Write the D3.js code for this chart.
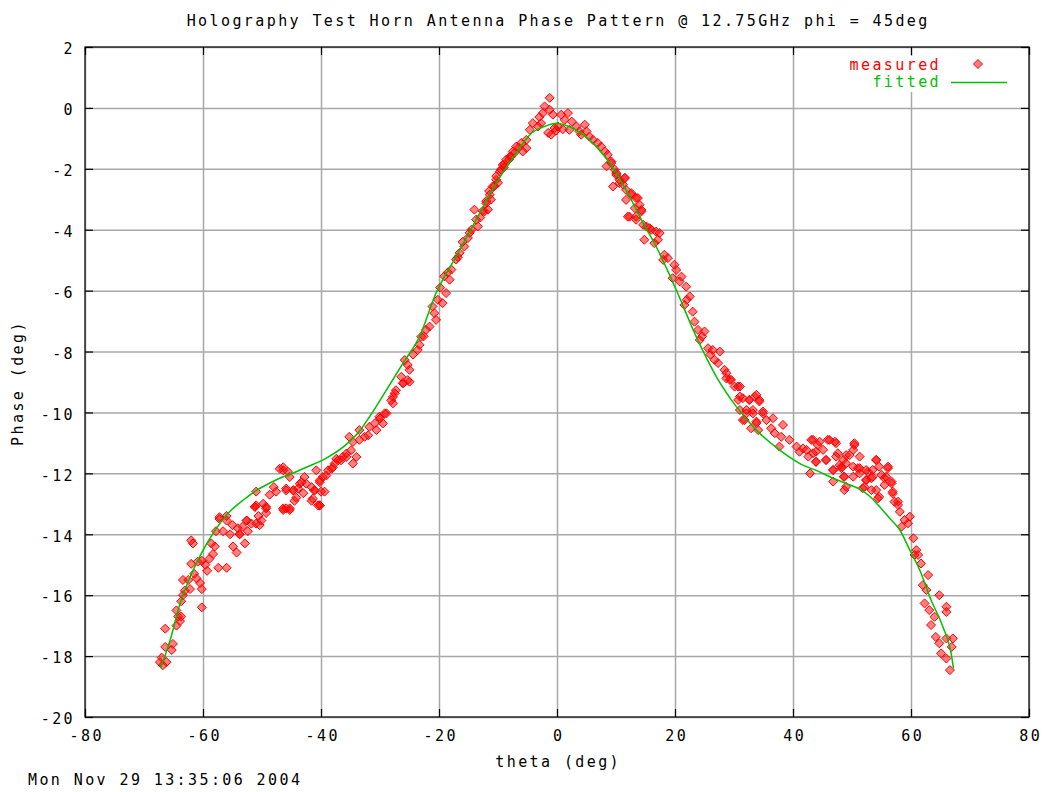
<!DOCTYPE html>
<html>
<head>
<meta charset="utf-8">
<script src="https://cdn.jsdelivr.net/npm/d3@7"></script>
<style>
  body { margin: 0; background: #fff; }
  svg text { font-family: "DejaVu Sans Mono", monospace; font-size: 15px; letter-spacing: 2.4px; fill: #000; }
</style>
</head>
<body>
<svg id="chart"></svg>
<script>
// Tick values
const xTicks = [-80, -60, -40, -20, 0, 20, 40, 60, 80];
const yTicks = [-20, -18, -16, -14, -12, -10, -8, -6, -4, -2, 0, 2];

// Measured phase points [theta, phase] in pieces
const leftWing = [[-67.3,-18.2],[-66.8,-18.3],[-66.2,-18.2],[-67.0,-18.05],[-66.4,-17.7],[-65.3,-17.8],[-65.1,-17.6],[-66.4,-17.1],[-64.5,-17.0],[-63.9,-16.85],[-64.2,-16.7],[-63.7,-16.7],[-64.5,-16.5],[-63.7,-16.2],[-63.4,-16.0],[-63.1,-15.85],[-62.2,-15.8],[-62.5,-15.5],[-63.4,-15.5],[-61.1,-15.45],[-60.5,-15.6],[-60.2,-15.8],[-60.2,-16.4],[-61.5,-15.3],[-62.0,-14.97],[-60.9,-14.9],[-60.2,-14.87],[-59.6,-15.0],[-59.3,-15.2],[-62.0,-14.2],[-61.7,-14.3],[-58.9,-14.8],[-58.3,-14.65],[-58.6,-14.3],[-58.0,-14.4],[-57.4,-15.1],[-56.0,-15.1],[-57.8,-13.9],[-57.2,-13.5],[-56.0,-13.4],[-56.6,-13.9],[-55.4,-14.0],[-54.9,-14.4],[-54.3,-14.6],[-53.8,-14.0],[-54.1,-13.8],[-52.6,-13.55],[-52.4,-13.9],[-52.9,-14.3],[-51.8,-13.65],[-51.0,-13.65],[-50.1,-13.55],[-51.2,-13.1],[-49.3,-13.1],[-49.3,-13.3],[-51.0,-13.05],[-46.4,-13.15],[-45.3,-13.15],[-44.5,-12.9],[-41.6,-12.9],[-40.5,-13.05],[-55.0,-13.7],[-53.3,-13.75],[-50.6,-13.4]];
const leftShoulder = [[-47.0,-11.85],[-46.4,-11.8],[-45.6,-11.95],[-51.0,-12.6],[-48.7,-12.7],[-47.6,-12.6],[-49.8,-13.0],[-49.3,-13.15],[-51.2,-13.1],[-46.4,-13.2],[-45.3,-13.2],[-45.9,-12.5],[-44.7,-12.55],[-43.9,-12.5],[-44.2,-12.8],[-43.3,-12.29],[-42.5,-12.34],[-41.6,-12.45],[-41.1,-12.56],[-42.8,-12.12],[-40.8,-11.9],[-40.2,-12.29],[-39.4,-12.6],[-40.2,-13.05],[-39.1,-12.07],[-38.2,-11.85],[-37.7,-11.68],[-37.1,-11.57],[-36.3,-11.46],[-35.7,-11.35],[-34.9,-11.24],[-34.6,-11.68],[-56.0,-13.55],[-57.2,-13.44],[-52.6,-13.55],[-50.4,-13.7],[-53.8,-14.0],[-48.0,-12.45],[-43.0,-12.65]];
const leftMid = [[-26.1,-9.04],[-25.0,-8.99],[-27.5,-9.37],[-27.8,-9.70],[-28.9,-10.03],[-29.5,-10.36],[-30.6,-10.58],[-31.8,-10.47],[-32.6,-10.8],[-33.5,-10.9],[-34.6,-10.97],[-35.2,-10.8],[-34.0,-11.46],[-35.7,-11.46],[-36.6,-11.57],[-37.4,-11.52],[-38.0,-11.8],[-38.8,-11.9],[-39.7,-12.12],[-40.2,-12.23],[-41.1,-12.56],[-40.0,-12.6],[-41.4,-12.83],[-40.2,-13.05],[-43.6,-12.34],[-44.7,-12.56],[-45.9,-12.56],[-46.4,-11.9],[-45.3,-12.12],[-45.9,-13.15],[-33.5,-10.58],[-32.0,-10.75],[-30.0,-10.2]];
const leftRise = [[-30.9,-10.36],[-30.1,-10.14],[-29.2,-10.03],[-28.1,-9.6],[-27.8,-9.49],[-27.3,-9.27],[-26.1,-9.04],[-26.4,-8.83],[-25.3,-8.94],[-25.0,-8.6],[-25.8,-8.28],[-25.3,-8.44],[-23.6,-7.95],[-23.3,-7.78],[-23.0,-7.51],[-22.2,-7.29],[-21.6,-7.18],[-20.5,-6.96],[-20.8,-6.74],[-21.1,-6.52],[-20.2,-6.3],[-19.4,-6.41],[-18.8,-6.08],[-19.1,-5.53],[-18.2,-5.64],[-17.9,-5.31],[-17.1,-4.98],[-16.5,-4.76],[-15.7,-4.55],[-15.1,-4.27],[-14.5,-4.0],[-13.4,-3.89],[-13.7,-3.67],[-14.0,-3.34],[-12.6,-3.39],[-11.7,-3.34],[-12.0,-3.06],[-11.2,-3.01],[-11.5,-2.73],[-10.6,-2.57],[-10.0,-2.46],[-10.3,-2.24],[-9.5,-2.02],[-8.9,-1.85],[-8.1,-1.69],[-7.2,-1.47],[-19.8,-5.9],[-18.5,-5.4],[-16.8,-4.9],[-16.0,-4.4],[-14.8,-4.1],[-13.0,-3.6],[-9.0,-1.95],[-7.8,-1.6],[-6.5,-1.3],[-24.4,-8.1],[-22.6,-7.5]];
const peakPoints = [[-1.25,0.33],[-2.1,0.05],[-1.25,-0.06],[-2.4,-0.17],[-0.7,-0.22],[0.73,-0.22],[1.85,-0.17],[1.3,-0.39],[-4.1,-0.5],[-3.2,-0.61],[-4.6,-0.72],[-0.4,-0.66],[0.15,-0.61],[-1.5,-0.82],[-1.0,-0.88],[2.1,-0.72],[3.3,-0.61],[3.8,-0.77],[4.7,-0.55],[5.0,-0.77],[5.5,-0.94],[4.1,-0.88],[-5.2,-1.05],[-6.05,-1.15],[-6.9,-1.27],[-5.2,-1.32],[-5.8,-1.43],[-7.5,-1.43],[-8.0,-1.6],[-8.6,-1.7],[-9.2,-1.87],[-9.7,-2.09],[-10.3,-2.36],[-10.9,-2.58],[-11.4,-2.85],[-12.0,-3.13],[-12.3,-3.4],[6.1,-1.05],[6.9,-1.15],[7.5,-1.27],[8.1,-1.43],[8.6,-1.54],[9.2,-1.76],[9.8,-2.03],[10.05,-2.2],[11.5,-2.3],[10.6,-2.36],[11.2,-2.52],[11.7,-2.69],[12.6,-2.85],[13.4,-2.96],[14.0,-3.18],[14.3,-3.35],[12.3,-3.57],[13.4,-3.57],[8.4,-1.92],[-3.0,-0.3],[-2.7,-0.5],[2.5,-0.45],[-0.2,-0.75],[1.0,-0.7]];
const rightFall = [[9.2,-1.81],[10.05,-2.14],[11.5,-2.3],[9.5,-2.58],[10.6,-2.47],[12.6,-2.8],[13.7,-2.96],[11.7,-3.02],[13.2,-3.29],[14.3,-3.4],[12.0,-3.57],[13.4,-3.67],[14.6,-3.84],[15.7,-3.95],[16.8,-4.06],[17.4,-4.11],[14.8,-4.33],[17.1,-4.33],[16.5,-4.44],[18.2,-4.82],[18.8,-4.93],[18.0,-4.99],[19.9,-5.15],[20.2,-5.32],[19.6,-5.59],[21.1,-5.54],[20.8,-5.7],[21.9,-5.87],[22.5,-6.19],[21.6,-6.47],[23.0,-6.69],[23.3,-7.02],[23.9,-7.29],[25.0,-7.34],[24.2,-7.62],[25.6,-7.89],[26.4,-7.95],[27.6,-8.0],[26.7,-8.27],[27.3,-8.38],[28.4,-8.6],[28.7,-8.88],[29.3,-8.93],[30.1,-9.15],[31.0,-9.15],[30.7,-9.59],[31.5,-9.53],[32.6,-9.59],[33.5,-9.48],[34.3,-9.59],[32.1,-9.92],[33.2,-10.03],[34.9,-10.03],[31.5,-10.25],[33.8,-10.35],[15.2,-3.9],[16.0,-4.0],[22.0,-6.3],[24.6,-7.5],[26.0,-8.1]];
const rightShoulder = [[28.7,-8.71],[29.5,-8.93],[30.7,-9.15],[31.0,-9.48],[32.6,-9.59],[33.8,-9.42],[34.3,-9.64],[31.0,-9.92],[32.1,-10.03],[33.2,-9.92],[34.9,-9.97],[31.8,-10.25],[33.8,-10.3],[35.5,-10.25],[36.6,-10.19],[32.9,-10.52],[34.1,-10.58],[36.3,-10.52],[38.3,-10.41],[36.9,-10.68],[38.0,-10.8],[39.4,-10.9],[37.7,-11.12],[40.6,-11.12],[41.1,-11.29],[43.4,-10.9],[44.5,-10.96],[45.9,-10.9],[47.1,-10.96],[50.4,-11.01],[42.3,-11.23],[43.9,-11.29],[45.1,-11.23],[42.6,-11.45],[43.9,-11.62],[45.6,-11.56],[47.3,-11.45],[49.0,-11.4],[50.2,-11.23],[51.3,-11.45],[47.9,-11.73],[49.0,-11.67],[46.8,-11.89],[48.2,-11.83],[50.2,-11.78],[51.3,-11.83],[54.1,-11.56],[52.4,-11.89],[53.5,-11.89],[54.6,-11.78],[56.1,-11.78],[48.6,-12.11],[50.2,-12.11],[52.4,-12.22],[53.5,-12.11],[55.0,-12.05],[55.8,-12.11],[42.9,-12.0],[46.8,-12.27],[49.0,-12.44],[52.1,-12.44],[54.1,-12.55],[55.5,-12.38],[56.7,-12.33],[54.6,-12.77],[56.9,-12.66],[57.8,-12.93]];
const rightWing = [[41.7,-11.18],[43.1,-10.9],[44.2,-11.07],[43.4,-11.34],[43.9,-11.62],[45.6,-11.56],[46.2,-10.9],[47.3,-11.01],[47.6,-11.34],[48.5,-11.56],[49.6,-11.4],[50.4,-11.07],[48.2,-11.78],[46.8,-11.89],[48.7,-12.11],[51.0,-11.83],[51.3,-12.0],[52.7,-11.95],[54.1,-11.56],[53.3,-12.16],[52.4,-12.22],[56.1,-11.83],[55.5,-12.16],[56.7,-12.27],[51.8,-12.49],[53.3,-12.55],[48.7,-12.55],[54.4,-12.82],[56.9,-12.6],[57.2,-12.93],[57.8,-13.04],[58.1,-13.26],[58.9,-13.53],[59.8,-13.42],[58.4,-13.75],[59.5,-13.64],[60.4,-14.13],[60.9,-14.52],[61.2,-14.68],[61.7,-14.96],[60.6,-14.68],[62.9,-15.34],[62.0,-15.67],[62.6,-15.83],[64.8,-16.0],[62.3,-16.27],[63.1,-16.49],[64.0,-16.71],[63.4,-16.98],[66.0,-16.38],[66.0,-16.55],[64.2,-17.37],[66.0,-17.42],[67.1,-17.42],[64.8,-17.58],[65.1,-17.91],[66.0,-18.08],[66.9,-17.7],[66.6,-18.46]];

// Fitted curve
const fittedTheta = [-67.2,-65.6,-63.9,-62.2,-60.0,-58.3,-55.5,-53.0,-51.0,-49.0,-47.0,-44.5,-42.5,-39.1,-35.7,-33.5,-31.8,-28.9,-26.1,-23.3,-20.5,-17.1,-13.7,-10.3,-6.9,-4.6,-2.0,-0.1,2.5,5.5,8.9,12.3,14.6,16.8,20.2,23.6,27.0,30.4,33.8,37.7,41.1,44.5,46.8,49.0,51.3,53.0,54.7,56.5,58.1,59.8,61.5,63.4,65.4,66.8,67.2];
const fittedPhase = [-18.4,-17.5,-16.28,-15.41,-14.53,-13.97,-13.26,-12.85,-12.57,-12.35,-12.16,-11.97,-11.8,-11.5,-11.05,-10.62,-10.15,-9.26,-8.38,-7.51,-6.08,-4.88,-3.67,-2.47,-1.48,-0.88,-0.6,-0.5,-0.65,-1.05,-1.81,-2.91,-3.78,-4.55,-5.97,-7.51,-8.82,-9.81,-10.58,-11.23,-11.67,-11.95,-12.16,-12.33,-12.52,-12.75,-13.1,-13.5,-13.86,-14.52,-15.18,-16.16,-17.04,-17.91,-18.4];

class PhaseChart {

  constructor(_config) {
    this.config = {
      parentElement: _config.parentElement,
      containerWidth: _config.width,
      containerHeight: _config.height,
      margin: { top: 47, right: 23, bottom: 75, left: 85 }
    };
    this.measured = _config.measured;
    this.fitted = _config.fitted;
    this.initVis();
  }

  initVis() {
    let vis = this;
    vis.config.width = vis.config.containerWidth - vis.config.margin.left - vis.config.margin.right;
    vis.config.height = vis.config.containerHeight - vis.config.margin.top - vis.config.margin.bottom;

    vis.svg = d3.select(vis.config.parentElement)
      .attr('width', vis.config.containerWidth)
      .attr('height', vis.config.containerHeight);

    vis.chartArea = vis.svg.append('g')
      .attr('transform', `translate(${vis.config.margin.left},${vis.config.margin.top})`);

    vis.xScale = d3.scaleLinear().domain([-80, 80]).range([0, vis.config.width]);
    vis.yScale = d3.scaleLinear().domain([-20, 2]).range([vis.config.height, 0]);

    vis.renderVis();
  }

  renderVis() {
    let vis = this;
    const w = vis.config.width, h = vis.config.height;
    const fmt = d => String(d);

    // grid
    vis.chartArea.append('g')
      .call(d3.axisBottom(vis.xScale).tickValues(xTicks).tickSize(h).tickFormat(''))
      .call(g => g.select('.domain').remove())
      .selectAll('line').attr('stroke', '#a8a8a8').attr('stroke-width', 1.5);
    vis.chartArea.append('g')
      .call(d3.axisLeft(vis.yScale).tickValues(yTicks).tickSize(-w).tickFormat(''))
      .call(g => g.select('.domain').remove())
      .selectAll('line').attr('stroke', '#a8a8a8').attr('stroke-width', 1.5);

    // legend background hides grid behind the key
    vis.svg.append('rect')
      .attr('x', 838).attr('y', 56).attr('width', 176).attr('height', 36)
      .attr('fill', '#fff');

    // measured diamonds
    const diamond = 'M0,-4.5L4.5,0L0,4.5L-4.5,0Z';
    vis.chartArea.append('g')
      .selectAll('.pt')
      .data(vis.measured)
      .join('path')
      .attr('class', 'pt')
      .attr('d', diamond)
      .attr('transform', d => `translate(${vis.xScale(d[0])},${vis.yScale(d[1])})`)
      .attr('fill', 'rgba(255,0,0,0.5)')
      .attr('stroke', '#ff0000')
      .attr('stroke-width', 1);

    // fitted line
    const line = d3.line()
      .curve(d3.curveMonotoneX)
      .x(d => vis.xScale(d[0]))
      .y(d => vis.yScale(d[1]));
    vis.chartArea.append('path')
      .datum(vis.fitted)
      .attr('fill', 'none')
      .attr('stroke', '#00c000')
      .attr('stroke-width', 1.5)
      .attr('d', line);

    // border
    vis.chartArea.append('rect')
      .attr('width', w).attr('height', h)
      .attr('fill', 'none').attr('stroke', '#000').attr('stroke-width', 1.2);

    // axes with inward ticks
    const styleAxis = g => {
      g.select('.domain').remove();
      g.selectAll('line').attr('stroke', '#000').attr('stroke-width', 1.2);
      g.selectAll('text').attr('fill', '#000').style('font-family', '"DejaVu Sans Mono", monospace').style('font-size', '15px');
    };
    vis.chartArea.append('g')
      .call(d3.axisLeft(vis.yScale).tickValues(yTicks).tickSize(-8).tickPadding(10).tickFormat(fmt))
      .call(styleAxis)
      .selectAll('text').attr('dy', '0.45em');
    vis.chartArea.append('g')
      .attr('transform', `translate(0,${h})`)
      .call(d3.axisBottom(vis.xScale).tickValues(xTicks).tickSize(-8).tickPadding(13).tickFormat(fmt))
      .call(styleAxis)
      .selectAll('text').attr('dx', 1.2);
    vis.chartArea.append('g')
      .attr('transform', `translate(${w},0)`)
      .call(d3.axisRight(vis.yScale).tickValues(yTicks).tickSize(-8).tickFormat(''))
      .call(styleAxis);
    vis.chartArea.append('g')
      .call(d3.axisTop(vis.xScale).tickValues(xTicks).tickSize(-8).tickFormat(''))
      .call(styleAxis);

    // titles
    const cx = vis.config.margin.left + w / 2;
    vis.svg.append('text')
      .attr('x', cx + 1.2).attr('y', 26)
      .attr('text-anchor', 'middle')
      .text('Holography Test Horn Antenna Phase Pattern @ 12.75GHz phi = 45deg');
    vis.svg.append('text')
      .attr('x', cx + 1.2).attr('y', 767)
      .attr('text-anchor', 'middle')
      .text('theta (deg)');
    vis.svg.append('text')
      .attr('transform', 'translate(23,383) rotate(-90)')
      .attr('text-anchor', 'middle')
      .text('Phase (deg)');
    vis.svg.append('text')
      .attr('x', 28).attr('y', 785)
      .text('Mon Nov 29 13:35:06 2004');

    // key
    vis.svg.append('text')
      .attr('x', 941).attr('y', 70)
      .attr('text-anchor', 'end')
      .style('fill', '#ff0000')
      .text('measured');
    vis.svg.append('path')
      .attr('d', diamond)
      .attr('transform', 'translate(978,64)')
      .attr('fill', 'rgba(255,0,0,0.5)')
      .attr('stroke', '#ff0000');
    vis.svg.append('text')
      .attr('x', 941).attr('y', 87)
      .attr('text-anchor', 'end')
      .style('fill', '#00c000')
      .text('fitted');
    vis.svg.append('line')
      .attr('x1', 951).attr('x2', 1007).attr('y1', 82.5).attr('y2', 82.5)
      .attr('stroke', '#00c000').attr('stroke-width', 1.5);
  }
}

const measured = [].concat(leftWing, leftShoulder, leftMid, leftRise, peakPoints, rightFall, rightShoulder, rightWing);
const fitted = fittedTheta.map((t, i) => [t, fittedPhase[i]]);

new PhaseChart({ parentElement: '#chart', width: 1052, height: 792, measured: measured, fitted: fitted });
</script>
</body>
</html>
